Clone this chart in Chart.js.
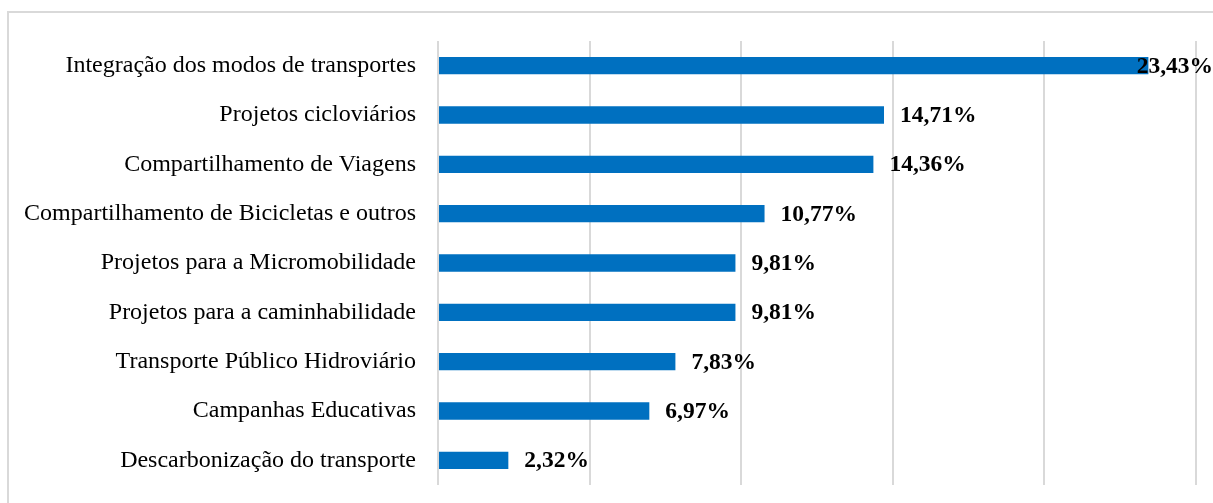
<!DOCTYPE html>
<html>
<head>
<meta charset="utf-8">
<script src="https://cdn.jsdelivr.net/npm/chart.js@4/dist/chart.umd.min.js"></script>
<style>
    html, body { margin: 0; padding: 0; background: #fff; }
    #wrap { position: relative; width: 1213px; height: 503px; overflow: hidden; }
</style>
</head>
<body>
<div id="wrap"><canvas id="chart" width="1213" height="503"></canvas></div>
<script>
const categories = [
    'Integração dos modos de transportes',
    'Projetos cicloviários',
    'Compartilhamento de Viagens',
    'Compartilhamento de Bicicletas e outros',
    'Projetos para a Micromobilidade',
    'Projetos para a caminhabilidade',
    'Transporte Público Hidroviário',
    'Campanhas Educativas',
    'Descarbonização do transporte'
];
const values = [23.43, 14.71, 14.36, 10.77, 9.81, 9.81, 7.83, 6.97, 2.32];
const axisMax = 25;

// moldura cinza da área do gráfico
const framePlugin = {
    id: 'frame',
    beforeDraw(chart) {
        const ctx = chart.ctx;
        ctx.save();
        ctx.strokeStyle = '#d9d9d9';
        ctx.lineWidth = 2;
        ctx.strokeRect(8, 12, 1300, 600);
        ctx.restore();
    }
};

// rótulos de valor no fim das barras
const valueLabels = {
    id: 'valueLabels',
    afterDatasetsDraw(chart) {
        const ctx = chart.ctx;
        const meta = chart.getDatasetMeta(0);
        ctx.save();
        ctx.font = 'bold 23.5px "Liberation Serif", "Times New Roman", serif';
        ctx.fillStyle = '#000';
        ctx.textBaseline = 'middle';
        meta.data.forEach((bar, i) => {
            const txt = values[i].toFixed(2).replace('.', ',') + '%';
            const w = ctx.measureText(txt).width;
            let x = bar.x + 16;
            if (x + w > chart.width) x = chart.width - w;
            ctx.fillText(txt, x, bar.y + 1);
        });
        ctx.restore();
    }
};

new Chart(document.getElementById('chart'), {
    type: 'bar',
    data: {
        labels: categories,
        datasets: [{
            data: values,
            backgroundColor: '#0070C0',
            borderWidth: 0,
            barPercentage: 0.35,
            categoryPercentage: 1
        }]
    },
    options: {
        indexAxis: 'y',
        responsive: false,
        animation: false,
        layout: { padding: { top: 41, right: 17, bottom: 18, left: 0 } },
        plugins: { legend: { display: false }, tooltip: { enabled: false } },
        scales: {
            x: {
                min: 0,
                max: axisMax,
                ticks: { display: false, stepSize: 5 },
                grid: { color: '#d9d9d9', lineWidth: 2, drawTicks: false },
                border: { display: false },
                afterFit: (s) => { s.height = 0; }
            },
            y: {
                ticks: {
                    color: '#000',
                    padding: 22,
                    font: { family: '"Liberation Serif", "Times New Roman", serif', size: 24 }
                },
                grid: { display: false, drawTicks: false },
                border: { display: false },
                afterFit: (s) => { s.width = 438; s.paddingTop = 0; s.paddingBottom = 0; }
            }
        }
    },
    plugins: [framePlugin, valueLabels]
});
</script>
</body>
</html>
